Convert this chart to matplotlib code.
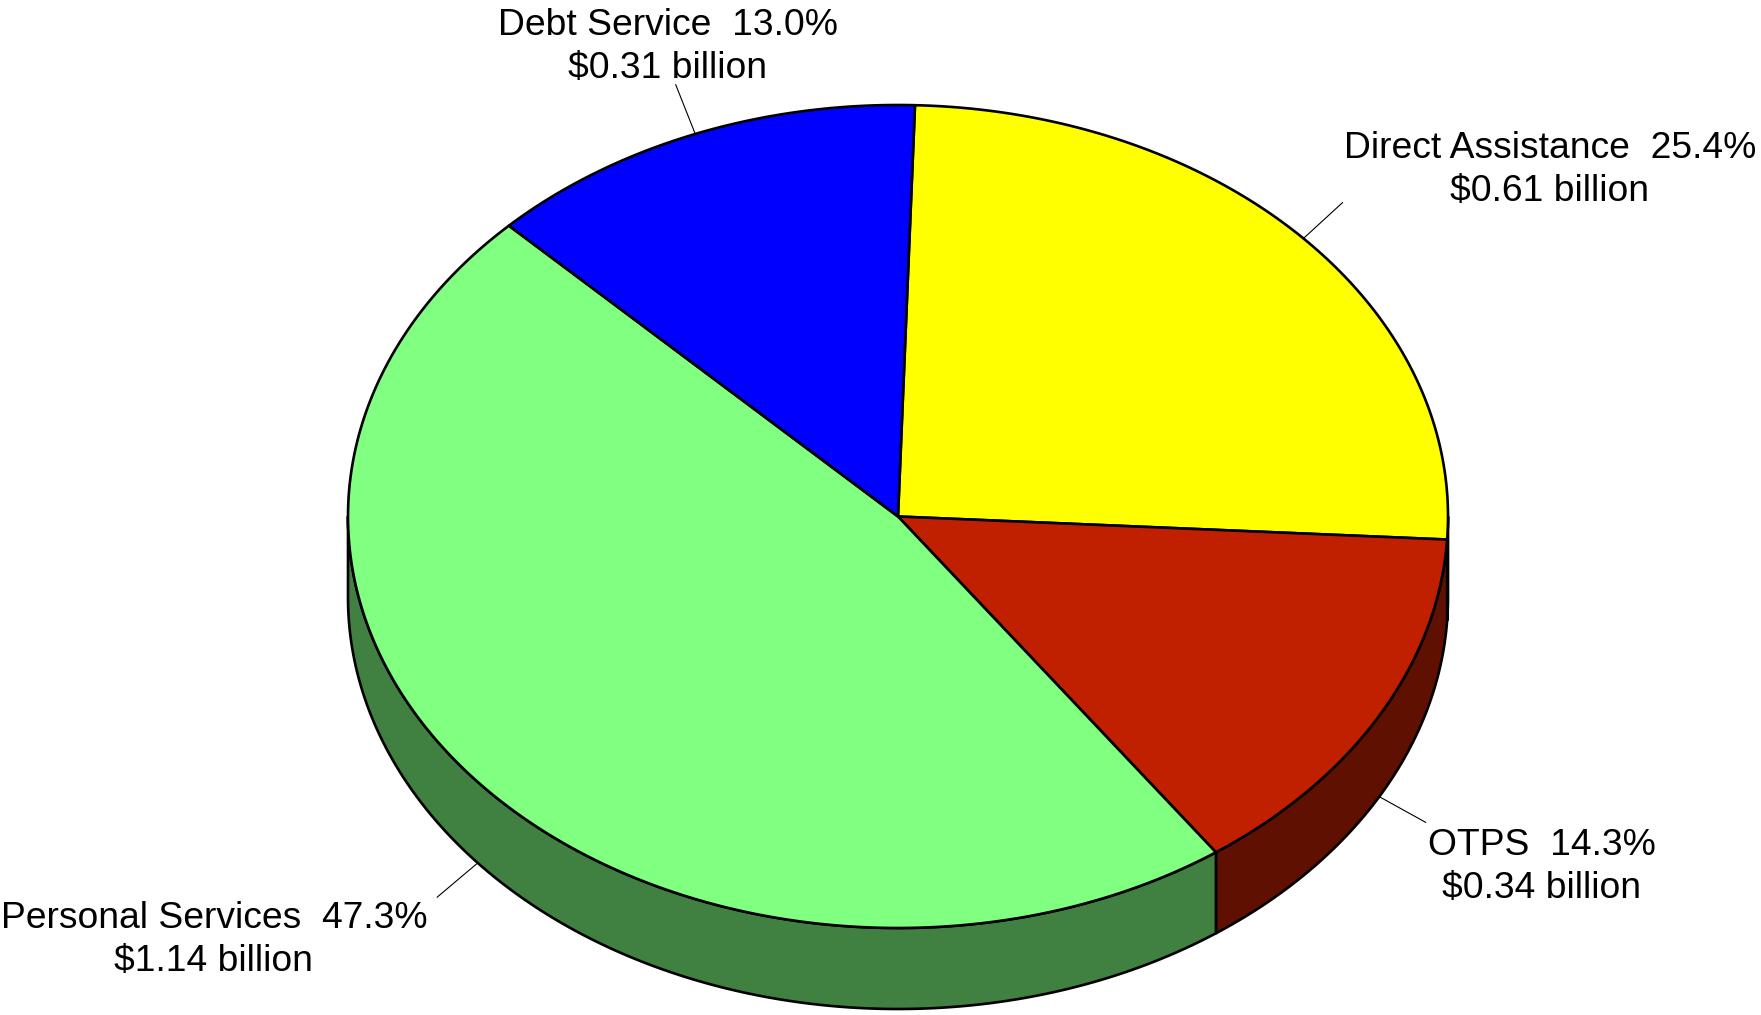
import numpy as np
import matplotlib
matplotlib.use("Agg")
import matplotlib.pyplot as plt
from matplotlib.patches import Polygon

# ---- data ----
categories = ["Direct Assistance", "OTPS", "Personal Services", "Debt Service"]
percents = [25.4, 14.3, 47.3, 13.0]
billions = [0.61, 0.34, 1.14, 0.31]
top_colors = ["#FFFF00", "#C02000", "#80FF80", "#0000FF"]
side_colors = ["#808000", "#601000", "#408040", "#000080"]

# ---- layout (pixel space) ----
W, H = 1761, 1015
cx, cy = 898.0, 516.5
rx, ry = 550.0, 411.5
depth = 81.0
start = 1.77  # degrees clockwise from 12 o'clock

plt.rcParams['font.family'] = ['Liberation Sans', 'DejaVu Sans']
fig = plt.figure(figsize=(W / 100, H / 100), dpi=100)
ax = fig.add_axes([0, 0, 1, 1])
ax.set_xlim(0, W)
ax.set_ylim(H, 0)
ax.axis('off')


def pt(phi_deg, dz=0.0):
    p = np.radians(phi_deg)
    return cx + rx * np.sin(p), cy - ry * np.cos(p) + dz


fr = np.array(percents) / sum(percents)
bounds = start + 360 * np.concatenate([[0], np.cumsum(fr)])
lw = 1.9

# side walls (front half: 90..270 deg clockwise from top)
for i in range(len(categories)):
    a1, a2 = bounds[i], bounds[i + 1]
    s1, s2 = max(a1, 90), min(a2, 270)
    if s2 - s1 <= 0.5:
        continue
    ph = np.linspace(s1, s2, 200)
    xs, ys = pt(ph)
    xb, yb = pt(ph[::-1], depth)
    poly = np.column_stack([np.concatenate([xs, xb]), np.concatenate([ys, yb])])
    ax.add_patch(Polygon(poly, closed=True, facecolor=side_colors[i],
                         edgecolor='black', lw=lw, joinstyle='round'))

# top faces
for i in range(len(categories)):
    a1, a2 = bounds[i], bounds[i + 1]
    ph = np.linspace(a1, a2, 300)
    xs, ys = pt(ph)
    poly = np.column_stack([np.concatenate([[cx], xs]), np.concatenate([[cy], ys])])
    ax.add_patch(Polygon(poly, closed=True, facecolor=top_colors[i],
                         edgecolor='black', lw=lw, joinstyle='round'))

# labels with leader lines
lead = 53
# (ha, va, dx, dy) anchor offsets from end of leader line
anchors = [("left", "bottom", 1, 6),
           ("left", "top", 2, 6),
           ("right", "top", -10, 4),
           ("center", "bottom", -8, 1)]
for i in range(len(categories)):
    mid = (bounds[i] + bounds[i + 1]) / 2
    m = mid % 360
    dz = depth if 90 < m < 270 else 0.0
    x0, y0 = pt(mid, dz)
    p = np.radians(mid)
    x1, y1 = x0 + lead * np.sin(p), y0 - lead * np.cos(p)
    ax.plot([x0, x1], [y0, y1], color='black', lw=0.8)
    ha, va, dx, dy = anchors[i]
    ax.text(x1 + dx, y1 + dy,
            f"{categories[i]}  {percents[i]:.1f}%\n${billions[i]:.2f} billion",
            ha=ha, va=va, multialignment='center', fontsize=26.8,
            linespacing=1.30, color='black')

fig.savefig("out.png", dpi=100)
